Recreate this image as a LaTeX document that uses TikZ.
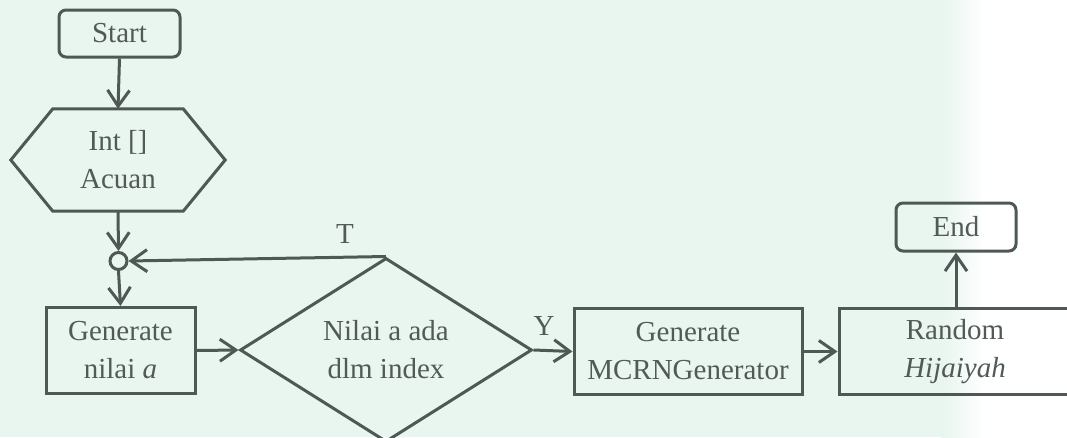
\documentclass[tikz,border=0pt]{standalone}
\usepackage{fontspec}
\setmainfont{Liberation Serif}
\usetikzlibrary{arrows.meta,shapes.geometric,calc}
\definecolor{ink}{RGB}{78,88,84}
\definecolor{txt}{RGB}{82,90,86}
\definecolor{tint}{RGB}{233,245,239}
\begin{document}
\begin{tikzpicture}[x=1pt,y=-1pt,
  every node/.style={text=txt,font=\fontsize{29}{38}\selectfont,align=center},
  line/.style={draw=ink,line width=3pt},
  flow/.style={line,-{Straight Barb[length=16pt,width=22pt,line width=3pt]}},
  termbox/.style={line,rounded corners=7pt,minimum width=121pt,minimum height=47pt,inner sep=0pt},
  procbox/.style={line,minimum height=86pt,inner sep=0pt},
  decbox/.style={line,diamond,minimum width=292pt,minimum height=176pt,inner sep=0pt},
  lbl/.style={inner sep=0pt}]
  % page frame and tinted background fading to white on the right
  \useasboundingbox (0,0) rectangle (1067,437);
  \clip (0,0) rectangle (1067,437);
  \fill[white] (0,0) rectangle (1067,437);
  \fill[tint] (0,0) rectangle (942,437);
  \shade[left color=tint,right color=white] (941,0) rectangle (985,437);

  % nodes
  \node[termbox] (start) at (119.5,33.5) {Start};
  \node[lbl,minimum width=130pt,minimum height=102pt] (hex) at (118,160) {Int []\\Acuan};
  \draw[line,line join=miter] (hex.north west) -- (hex.north east) -- ($(hex.east)+(42,0)$)
     -- (hex.south east) -- (hex.south west) -- ($(hex.west)+(-42,0)$) -- cycle;
  \node[line,circle,minimum size=17pt,inner sep=0pt] (jn) at (118.5,261) {};
  \node[procbox,minimum width=149pt] (gen) at (120.5,350.5) {Generate\\nilai \textit{a}};
  \node[decbox] (dia) at (386,350) {Nilai a ada\\dlm index};
  \node[procbox,minimum width=228pt] (mcrn) at (688,351.5) {Generate\\MCRNGenerator};
  \node[procbox,minimum width=232pt] (rand) at (955,351.5) {Random\\\textit{Hijaiyah}};
  \node[termbox,minimum width=120pt,minimum height=48pt] (end) at (956,227) {End};

  % labels on the decision branches
  \node[lbl] (tl) at (345,234) {T};
  \node[lbl] (yl) at (544,326) {Y};

  % connectors
  \draw[flow] (start.south) -- (hex.north);
  \draw[flow] (hex.south) -- (jn.north);
  \draw[flow] (jn.south) -- (gen.north);
  \draw[flow] (gen.east) -- (dia.west);
  \draw[flow] (dia.north) -- (jn.east);
  \draw[flow] (dia.east) -- (mcrn.west);
  \draw[flow] (mcrn.east) -- (rand.west);
  \draw[flow] (end.south |- rand.north) -- (end.south);
\end{tikzpicture}
\end{document}
